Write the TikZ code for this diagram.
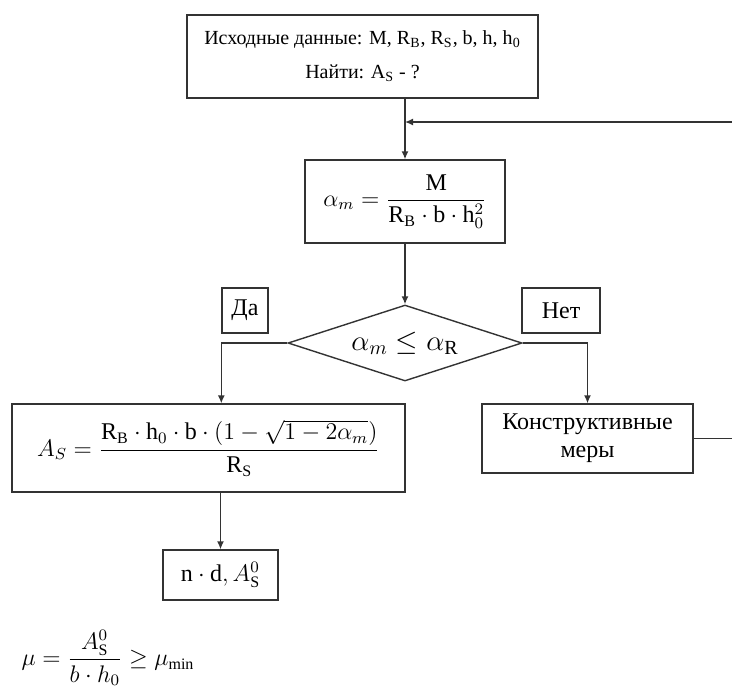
\documentclass[tikz,border=0pt]{standalone}
\usepackage{amsmath}
\usepackage{fontspec}
\setmainfont{Liberation Serif}
\usetikzlibrary{shapes.geometric,arrows.meta}
\tikzset{
	bloc/.style={draw=black!80, line width=0.7pt, align=center, inner sep=2pt},
	lien/.style={draw=black!80, line width=0.7pt},
	fleche/.style={lien, -{Latex[length=4pt,width=3.5pt]}}
}
\begin{document}
\begin{tikzpicture}[x=0.5pt, y=-0.5pt]
			\useasboundingbox (0,0) rectangle (732,693);
			%Блоки схемы
			\node[bloc, minimum width=175.5pt, minimum height=41.5pt] (ini) at (362.5,56.5) {Исходные данные: M, R\textsubscript{B}, R\textsubscript{S}, b, h, h\textsubscript{0}\\[5pt] Найти: A\textsubscript{S} - ?};
			\node[bloc, minimum width=100pt, minimum height=41.5pt] (calc) at (405,201.5) {\large $\alpha_m = \dfrac{\mathrm{M}}{\mathrm{R_B}\cdot \mathrm{b}\cdot \mathrm{h}_0^2}$};
			\node[bloc, diamond, aspect=3, inner sep=0pt, minimum width=117pt, minimum height=38pt] (cond) at (405,343) {\Large $\alpha_m \le \alpha_{\mathrm{R}}$};
			\node[bloc, font=\large, minimum width=23pt, minimum height=22.5pt] (Da) at (245,310.5) {Да};
			\node[bloc, font=\large, minimum width=39pt, minimum height=22.5pt] (Net) at (561,310.5) {Нет};
			\node[bloc, minimum width=196.5pt, minimum height=44pt] (As) at (208.5,448) {\large $A_S = \dfrac{\mathrm{R_B}\cdot \mathrm{h}_0\cdot \mathrm{b}\cdot (1-\sqrt{1-2\alpha_m})}{\mathrm{R_S}}$};
			\node[bloc, font=\large, minimum width=105.5pt, minimum height=34.5pt] (konstr) at (587.5,438.5) {Конструктивные\\меры};
			\node[bloc, minimum width=57.5pt, minimum height=25pt] (nd) at (220.5,575) {\large $\mathrm{n}\cdot \mathrm{d}, A_{\mathrm{S}}^0$};
			\node (mu) at (108,658) {\large $\mu = \dfrac{A_{\mathrm{S}}^0}{b\cdot h_0} \ge \mu_{\min}$};
			\coordinate (bordH) at (732,122);
			\coordinate (bordD) at (732,438.5);
			%Связи
			\draw[fleche] (ini.south -| calc.north) -- (calc.north);
			\draw[fleche] (bordH) -- (bordH -| calc.north);
			\draw[fleche] (calc.south) -- (cond.north);
			\draw[fleche] (cond.west) -| (As.north -| Da.west);
			\draw[fleche] (cond.east) -| (konstr.north);
			\draw[fleche] (As.south -| nd.north) -- (nd.north);
			\draw[lien] (konstr.east) -- (bordD);
\end{tikzpicture}
\end{document}
